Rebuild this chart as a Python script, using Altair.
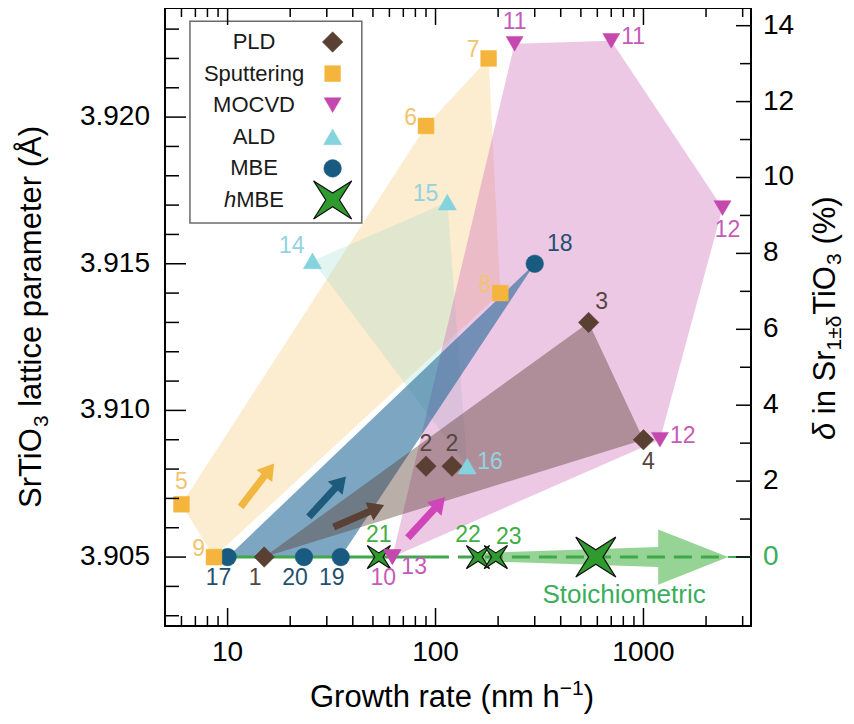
import altair as alt
import pandas as pd

FONT = "Liberation Sans"

# ---------------- data ----------------
methods = ["PLD", "Sputtering", "MOCVD", "ALD", "MBE", "hMBE"]

pld_rate = [15, 90, 120, 545, 1000]
pld_lat = [3.9050, 3.9081, 3.9081, 3.9130, 3.9090]
pld_ref = ["1", "2", "2", "3", "4"]
pld_pos = ["b", "t", "t", "tr", "b2"]

sput_rate = [6.0, 90, 180, 205, 8.6]
sput_lat = [3.9068, 3.9197, 3.9220, 3.9140, 3.9050]
sput_ref = ["5", "6", "7", "8", "9"]
sput_pos = ["t", "l", "l", "l", "l"]

mocvd_rate = [62, 240, 700, 2400, 1200, 62]
mocvd_lat = [3.9050, 3.9225, 3.9226, 3.9169, 3.9090, 3.9050]
mocvd_ref = ["10", "11", "11", "12", "12", "13"]
mocvd_pos = ["b", "t", "r", "b2", "r", "br"]

ald_rate = [25.6, 114, 142]
ald_lat = [3.9151, 3.9171, 3.9081]
ald_ref = ["14", "15", "16"]
ald_pos = ["lt", "l", "r"]

mbe_rate = [10, 300, 35, 23.3]
mbe_lat = [3.9050, 3.9150, 3.9050, 3.9050]
mbe_ref = ["17", "18", "19", "20"]
mbe_pos = ["b", "tr2", "b", "b"]

hmbe_rate = [53.4, 160, 195]
hmbe_lat = [3.9050, 3.9050, 3.9050]
hmbe_ref = ["21", "22", "23"]
hmbe_pos = ["t", "tl", "tr"]

this_work_rate = [590]
this_work_lat = [3.9050]

# outline of each technique's region (indices into that technique's points)
hull_idx = {
    "Sputtering": [0, 1, 2, 3, 4],
    "ALD": [0, 1, 2],
    "MOCVD": [0, 1, 2, 3, 4],
    "MBE": [0, 1, 2],
    "PLD": [0, 3, 4],
}

# trend arrows (centre, direction in degrees)
arrow_method = ["Sputtering", "MBE", "PLD", "MOCVD"]
arrow_rate = [13.9, 30.2, 42.8, 90.4]
arrow_lat = [3.90745, 3.90706, 3.90640, 3.90635]
arrow_angle = [37.5, 42.5, 66.5, 42.6]

# stoichiometric band arrow
stoich_rate = [164.5, 1177, 1177, 2553, 1177, 1177, 164.5]
stoich_lat = [3.90514, 3.90534, 3.90594, 3.90500, 3.90406, 3.90466, 3.90486]
stoich_solid = [10, 95]
stoich_dashed = [95, 2553]
stoich_tail = [2553, 3290]
stoich_text_rate = [807]
stoich_text_lat = [3.9037]

# axes
x_major = [10, 100, 1000]
x_minor = [6, 7, 8, 9, 20, 30, 40, 50, 60, 70, 80, 90,
           200, 300, 400, 500, 600, 700, 800, 900, 2000, 3000]
y_major = [3.905, 3.910, 3.915, 3.920]
y_minor = [3.903, 3.904, 3.906, 3.907, 3.908, 3.909, 3.911, 3.912, 3.913,
           3.914, 3.916, 3.917, 3.918, 3.919, 3.921, 3.922, 3.923]
r_major = [0, 2, 4, 6, 8, 10, 12, 14]
r_minor = [1, 3, 5, 7, 9, 11, 13]

legend_labels = ["PLD", "Sputtering", "MOCVD", "ALD", "MBE", "hMBE"]

# ---------------- styles ----------------
STAR = "M-1,-1 L0,-0.36 L1,-1 L0.36,0 L1,1 L0,0.36 L-1,1 L-0.36,0 Z"
ARROW = "M-0.13,1 L0.13,1 L0.13,-0.42 L0.36,-0.42 L0,-1 L-0.36,-0.42 L-0.13,-0.42 Z"

STYLE = {
    "PLD": dict(shape="diamond", size=420, fill="#5a3f33", stroke="#5a3f33", sw=0.5,
                label="#574640", region="#5a3f33", rop=0.42, arrow="#5a4035"),
    "Sputtering": dict(shape="square", size=250, fill="#f5b53c", stroke="#f5b53c", sw=0.5,
                       label="#f2c46f", region="#f7c46d", rop=0.32, arrow="#f0b840"),
    "MOCVD": dict(shape="triangle-down", size=290, fill="#c548ae", stroke="#c548ae", sw=0.5,
                  label="#c65ab8", region="#cc66b8", rop=0.36, arrow="#d046b8"),
    "ALD": dict(shape="triangle-up", size=330, fill="#84d3df", stroke="#84d3df", sw=0.5,
                label="#93d3df", region="#8fd6c8", rop=0.25),
    "MBE": dict(shape="circle", size=310, fill="#185a80", stroke="#185a80", sw=0.5,
                label="#22506f", region="#1e6594", rop=0.58, arrow="#1d5a7c"),
    "hMBE": dict(shape=STAR, size=540, fill="#2f9b2f", stroke="#111111", sw=1.2,
                 label="#42ad45"),
}
GREEN = "#3ea84a"
ZERO_GREEN = "#3aae5c"
LABEL_POS = {
    "t": dict(dx=0, dy=-22, align="center"),
    "tl": dict(dx=-10, dy=-22, align="center"),
    "tr": dict(dx=13, dy=-20, align="center"),
    "tr2": dict(dx=25, dy=-20, align="center"),
    "b": dict(dx=-9, dy=21, align="center"),
    "b2": dict(dx=5, dy=22, align="center"),
    "l": dict(dx=-9, dy=-8, align="right"),
    "lt": dict(dx=-8, dy=-15, align="right"),
    "r": dict(dx=10, dy=-4, align="left"),
    "br": dict(dx=9, dy=10, align="left"),
}

W, H = 586, 618
XDOM = [5.0, 3290]
YDOM = [3.90265, 3.92372]
RDOM = [-1.818, 14.466]

xs = alt.Scale(type="log", domain=XDOM, nice=False)
ys = alt.Scale(domain=YDOM, nice=False, zero=False)
rs = alt.Scale(domain=RDOM, nice=False, zero=False)


def X(f):
    return alt.X(f, type="quantitative", scale=xs, axis=None)


def Y(f):
    return alt.Y(f, type="quantitative", scale=ys, axis=None)


# ---------------- tables ----------------
src = {
    "PLD": (pld_rate, pld_lat, pld_ref, pld_pos),
    "Sputtering": (sput_rate, sput_lat, sput_ref, sput_pos),
    "MOCVD": (mocvd_rate, mocvd_lat, mocvd_ref, mocvd_pos),
    "ALD": (ald_rate, ald_lat, ald_ref, ald_pos),
    "MBE": (mbe_rate, mbe_lat, mbe_ref, mbe_pos),
    "hMBE": (hmbe_rate, hmbe_lat, hmbe_ref, hmbe_pos),
}
rows = []
for m, (r, l, ref, pos) in src.items():
    for i in range(len(r)):
        rows.append(dict(method=m, rate=r[i], lat=l[i], ref=ref[i], pos=pos[i],
                         tc=STYLE[m]["label"]))
pts = pd.DataFrame(rows)

layers = []

# regions
for m in ["Sputtering", "ALD", "MOCVD", "MBE", "PLD"]:
    r, l, _, _ = src[m]
    poly = pd.DataFrame({"rate": [r[i] for i in hull_idx[m]],
                         "lat": [l[i] for i in hull_idx[m]],
                         "o": list(range(len(hull_idx[m])))})
    layers.append(
        alt.Chart(poly).mark_line(interpolate="linear-closed").encode(
            x=X("rate"), y=Y("lat"), order=alt.Order("o:Q"),
            fill=alt.value(STYLE[m]["region"]),
            fillOpacity=alt.value(STYLE[m]["rop"]),
            strokeOpacity=alt.value(0),
        )
    )

# stoichiometric band arrow
sb = pd.DataFrame({"rate": stoich_rate, "lat": stoich_lat, "o": list(range(len(stoich_rate)))})
layers.append(
    alt.Chart(sb).mark_line(interpolate="linear-closed").encode(
        x=X("rate"), y=Y("lat"), order=alt.Order("o:Q"),
        fill=alt.value("#6cc46c"), fillOpacity=alt.value(0.72), strokeOpacity=alt.value(0),
    )
)
for seg, dash, sw in [(stoich_solid, [1, 0], 3), (stoich_dashed, [18, 9], 3), (stoich_tail, [1, 0], 2)]:
    d = pd.DataFrame({"a": [seg[0]], "b": [seg[1]], "lat": [3.905]})
    layers.append(
        alt.Chart(d).mark_rule(color=GREEN, strokeWidth=sw, strokeDash=dash).encode(
            x=X("a"), x2="b", y=Y("lat"))
    )

# trend arrows
ad = pd.DataFrame({"rate": arrow_rate, "lat": arrow_lat, "ang": arrow_angle,
                   "c": [STYLE[m]["arrow"] for m in arrow_method]})
layers.append(
    alt.Chart(ad).mark_point(shape=ARROW, filled=True, size=3025, opacity=1, strokeWidth=0).encode(
        x=X("rate"), y=Y("lat"), angle=alt.Angle("ang:Q", scale=None),
        fill=alt.Fill("c:N", scale=None))
)


# markers
def marker_layer(df, m, size=None):
    s = STYLE[m]
    return alt.Chart(df).mark_point(
        shape=s["shape"], filled=True, size=size or s["size"], fill=s["fill"],
        stroke=s["stroke"], strokeWidth=s["sw"], opacity=1,
    ).encode(x=X("rate"), y=Y("lat"))


layers.append(marker_layer(pd.DataFrame({"rate": this_work_rate, "lat": this_work_lat}), "hMBE", 1600))
for m in ["hMBE", "MBE", "PLD", "ALD", "Sputtering", "MOCVD"]:
    layers.append(marker_layer(pts[pts.method == m], m))

# point labels
for key, p in LABEL_POS.items():
    sub = pts[pts.pos == key]
    if len(sub) == 0:
        continue
    layers.append(
        alt.Chart(sub).mark_text(font=FONT, fontSize=23, dx=p["dx"], dy=p["dy"],
                                 align=p["align"], baseline="middle").encode(
            x=X("rate"), y=Y("lat"), text="ref:N", color=alt.Color("tc:N", scale=None))
    )

# Stoichiometric label
layers.append(
    alt.Chart(pd.DataFrame({"rate": stoich_text_rate, "lat": stoich_text_lat, "t": ["Stoichiometric"]}))
    .mark_text(font=FONT, fontSize=26, color=ZERO_GREEN, baseline="middle")
    .encode(x=X("rate"), y=Y("lat"), text="t:N")
)

# legend (inside plot, in data coordinates)
LEG_BOX = dict(x1=6.59, x2=44.2, y1=3.91639, y2=3.92327)
LEG_X_LABEL, LEG_X_SYM, LEG_X_SPLIT = 13.4, 32.0, 11.0
LEG_Y0, LEG_DY = 3.92256, 0.001077
layers.append(
    alt.Chart(pd.DataFrame([LEG_BOX])).mark_rect(fill="white", stroke="#6b6b6b", strokeWidth=1.5)
    .encode(x=X("x1"), x2="x2", y=Y("y1"), y2="y2")
)
leg = pd.DataFrame({"method": methods, "name": legend_labels,
                    "lat": [LEG_Y0 - i * LEG_DY for i in range(len(methods))]})
leg["rate"] = LEG_X_SYM
leg["lx"] = LEG_X_LABEL
leg["sx"] = LEG_X_SPLIT
plain = leg[leg.method != "hMBE"]
layers.append(
    alt.Chart(plain).mark_text(font=FONT, fontSize=22, color="#1a1a1a", baseline="middle")
    .encode(x=X("lx"), y=Y("lat"), text="name:N")
)
hrow = leg[leg.method == "hMBE"].copy()
hrow["h"] = "h"
hrow["rest"] = hrow["name"].str[1:]
layers.append(
    alt.Chart(hrow).mark_text(font=FONT, fontSize=22, color="#1a1a1a", baseline="middle",
                              align="right", fontStyle="italic")
    .encode(x=X("sx"), y=Y("lat"), text="h:N")
)
layers.append(
    alt.Chart(hrow).mark_text(font=FONT, fontSize=22, color="#1a1a1a", baseline="middle", align="left")
    .encode(x=X("sx"), y=Y("lat"), text="rest:N")
)
for m in methods:
    layers.append(marker_layer(leg[leg.method == m], m, 1450 if m == "hMBE" else None))

# inward tick marks + tick labels
TICK = dict(color="black", strokeWidth=1.5)
layers += [
    alt.Chart(pd.DataFrame({"v": x_major})).mark_rule(**TICK).encode(
        x=X("v"), y=alt.value(H), y2=alt.value(H - 18)),
    alt.Chart(pd.DataFrame({"v": x_major})).mark_rule(**TICK).encode(
        x=X("v"), y=alt.value(0), y2=alt.value(17)),
    alt.Chart(pd.DataFrame({"v": x_minor})).mark_rule(**TICK).encode(
        x=X("v"), y=alt.value(H), y2=alt.value(H - 10)),
    alt.Chart(pd.DataFrame({"v": x_minor})).mark_rule(**TICK).encode(
        x=X("v"), y=alt.value(0), y2=alt.value(9)),
    alt.Chart(pd.DataFrame({"v": y_major})).mark_rule(**TICK).encode(
        y=Y("v"), x=alt.value(0), x2=alt.value(21)),
    alt.Chart(pd.DataFrame({"v": y_minor})).mark_rule(**TICK).encode(
        y=Y("v"), x=alt.value(0), x2=alt.value(14)),
    alt.Chart(pd.DataFrame({"v": x_major})).mark_text(
        font=FONT, fontSize=28, color="black", baseline="alphabetic", align="center").encode(
        x=X("v"), y=alt.value(H + 35), text=alt.Text("v:Q", format="d")),
    alt.Chart(pd.DataFrame({"v": y_major})).mark_text(
        font=FONT, fontSize=28, color="black", baseline="middle", align="right").encode(
        y=Y("v"), x=alt.value(-15), text=alt.Text("v:Q", format=".3f")),
]


# titles (manual, with sub/superscripts)
def txt(text, x, y, size=31, angle=0, align="left", style="normal"):
    return alt.Chart(pd.DataFrame({"t": [text]})).mark_text(
        font=FONT, fontSize=size, angle=angle, align=align, baseline="alphabetic",
        fontStyle=style, color="black").encode(x=alt.value(x), y=alt.value(y), text="t:N")


# left title (reads bottom to top)
LX, LY = -124, 500
layers += [
    txt("SrTiO", LX, LY, angle=270),
    txt("3", LX + 7, LY - 80.9, size=21, angle=270),
    txt("lattice parameter (Å)", LX, LY - 80.9 - 11.7 - 8.6, angle=270),
]
# right title
RX, RY = 670, 432
layers += [
    txt("δ", RX, RY, angle=270, style="italic"),
    txt("in Sr", RX, RY - 17.2 - 8.6, angle=270),
    txt("1±δ", RX + 6, RY - 89.6, size=21, angle=270),
    txt("TiO", RX, RY - 125.2, angle=270),
    txt("3", RX + 6, RY - 175.1, size=21, angle=270),
    txt("(%)", RX, RY - 186.8 - 8.6, angle=270),
]
# bottom title
BX, BY = 145, 699
layers += [
    txt("Growth rate (nm h", BX, BY),
    txt("−1", BX + 249.8, BY - 12, size=21),
    txt(")", BX + 273.7, BY),
]

main = alt.layer(*layers)

# right-hand scale: delta in Sr(1±δ)TiO3 (%)
RY_ = lambda f: alt.Y(f, type="quantitative", scale=rs, axis=None)
right = alt.layer(
    alt.Chart(pd.DataFrame({"d": r_major})).mark_rule(**TICK).encode(
        y=RY_("d"), x=alt.value(W - 15), x2=alt.value(W)),
    alt.Chart(pd.DataFrame({"d": r_minor})).mark_rule(**TICK).encode(
        y=RY_("d"), x=alt.value(W - 11), x2=alt.value(W)),
    alt.Chart(pd.DataFrame({"d": r_major})).mark_text(
        font=FONT, fontSize=28, baseline="middle", align="left").encode(
        y=RY_("d"), x=alt.value(W + 12), text=alt.Text("d:Q", format="d"),
        color=alt.condition("datum.d == 0", alt.value(ZERO_GREEN), alt.value("black"))),
)

chart = alt.layer(main, right).resolve_scale(y="independent").properties(
    width=W, height=H,
    autosize=alt.AutoSizeParams(type="none"),
    padding={"left": 157, "top": 0, "right": 95, "bottom": 90},
).configure_view(stroke="black", strokeWidth=2)

chart.save("out.html", embed_options={"renderer": "svg", "actions": False})
